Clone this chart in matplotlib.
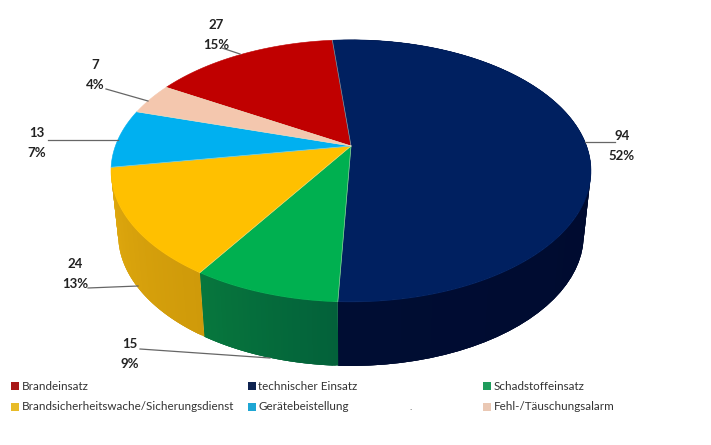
import numpy as np
import matplotlib
matplotlib.use('Agg')
import matplotlib.pyplot as plt
from matplotlib.colors import to_rgb
from matplotlib.collections import PolyCollection

plt.rcParams['font.family'] = ['Lato', 'DejaVu Sans']

categories = ['Brandeinsatz', 'technischer Einsatz', 'Schadstoffeinsatz',
              'Brandsicherheitswache/Sicherungsdienst', 'Gerätebeistellung',
              'Fehl-/Täuschungsalarm']
counts = [27, 94, 15, 24, 13, 7]
percents = [15, 52, 9, 13, 7, 4]

top_colors = ['#c00000', '#002060', '#00b050', '#ffc000', '#00b0f0', '#f4c7ae']
# None: wall of that slice is out of sight in the reference
side_left = [None, '#000d33', '#07773d', '#e0a90e', None, None]
side_right = [None, '#01082a', '#03613a', '#cf9a0a', None, None]
legend_colors = ['#a81818', '#0f2350', '#1f9c5c', '#e8bb28', '#1ea6d4', '#eac8b4']

# pie geometry in pixels, top face is a circle seen in perspective
CX, CY = 351, 146
A, B, K = 235.6, 126.3, 0.19
DEPTH, SHRINK = 64, 0.97
START = -59.4  # degrees clockwise from the top, where the first slice begins


def rim(theta, depth=0.0, shrink=1.0):
    t = np.radians(theta)
    u, v = np.sin(t), np.cos(t)
    d = 1 + K * v
    return CX + shrink * A * u / d, CY - B * v / d + depth


fig = plt.figure(figsize=(7.11, 4.45), dpi=100, facecolor='white')
ax = fig.add_axes([0, 0, 1, 1])
ax.set_xlim(0, 711)
ax.set_ylim(445, 0)
ax.axis('off')

edges = START + np.cumsum([0] + counts) * 360 / sum(counts)

# side wall first, top face goes over it
for i in range(len(counts)):
    if side_left[i] is None:
        continue
    th = np.linspace(edges[i], edges[i + 1], 60)
    polys, cols = [], []
    c0, c1 = np.array(to_rgb(side_left[i])), np.array(to_rgb(side_right[i]))
    # quads overlap the next one, later ones paint over, so no seams
    for j in range(len(th) - 1):
        end = min(j + 3, len(th) - 1)
        seg = th[j:end + 1]
        x0, y0 = rim(seg)
        x1, y1 = rim(seg[::-1], DEPTH, SHRINK)
        polys.append(np.c_[np.r_[x0, x1], np.r_[y0, y1]])
        f = j / (len(th) - 2)
        cols.append(c1 * (1 - f) + c0 * f)
    ax.add_collection(PolyCollection(polys, facecolors=cols, edgecolors='none',
                                     zorder=1))

for i in range(len(counts)):
    th = np.linspace(edges[i], edges[i + 1], 120)
    x, y = rim(th)
    ax.fill(np.r_[CX, x], np.r_[CY, y], facecolor=top_colors[i],
            edgecolor=top_colors[i], linewidth=0.4, zorder=2)

# thin light seams between the slices
for e in edges[:-1]:
    x, y = rim(e)
    ax.plot([CX, x], [CY, y], color='#e8e8c8', lw=0.5, alpha=0.6, zorder=3)

# data labels and leader lines
label_x = [216, 95, 622, 130, 75, 37]
label_y = [25, 65, 136, 344, 264, 133]
label_order = [0, 5, 1, 2, 3, 4]
leaders = [((222, 48), (240, 54)),
           ((106, 89), (148, 101)),
           ((585, 142), (615, 142)),
           ((140, 349), (270, 358)),
           ((88, 288), (138, 286)),
           ((48, 140), (118, 140))]
for n, idx in enumerate(label_order):
    ax.text(label_x[n], label_y[n], str(counts[idx]), ha='center', va='center',
            fontsize=9.5, fontweight='bold', color='#222222', zorder=5)
    ax.text(label_x[n], label_y[n] + 20, f'{percents[idx]}%', ha='center',
            va='center', fontsize=9.5, fontweight='bold', color='#222222', zorder=5)
    (x0, y0), (x1, y1) = leaders[n]
    ax.plot([x0, x1], [y0, y1], color='#666666', lw=0.9, zorder=4)

# legend
leg_x = [15, 252, 487, 15, 252, 487]
leg_y = [386, 386, 386, 407, 407, 407]
for i, name in enumerate(categories):
    ax.scatter(leg_x[i], leg_y[i], marker='s', s=30, color=legend_colors[i],
               linewidths=0, zorder=5)
    ax.text(leg_x[i] + 6.5, leg_y[i], name, ha='left', va='center', fontsize=8.4,
            color='#333333', zorder=5)
ax.text(411, 407, '.', ha='center', va='center', fontsize=7, color='#444444')

fig.savefig('out.png', dpi=100, facecolor='white')
